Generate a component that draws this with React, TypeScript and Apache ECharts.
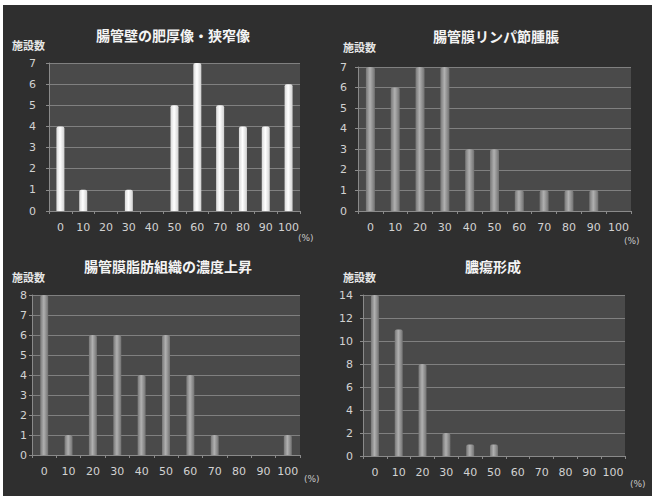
import React, { useEffect, useRef } from "react";
import * as echarts from "echarts";

const categories = ["0", "10", "20", "30", "40", "50", "60", "70", "80", "90", "100"];
const titles = [
  "腸管壁の肥厚像・狭窄像",
  "腸管膜リンパ節腫脹",
  "腸管膜脂肪組織の濃度上昇",
  "膿瘍形成",
];
const wallThickening = [4, 1, 0, 1, 0, 5, 7, 5, 4, 4, 6];
const lymphNodes = [7, 6, 7, 7, 3, 3, 1, 1, 1, 1, 0];
const fatDensity = [8, 1, 6, 6, 4, 6, 4, 1, 0, 0, 1];
const abscess = [14, 11, 8, 2, 1, 1, 0, 0, 0, 0, 0];
const yMax = [7, 7, 8, 14];
const yInterval = [1, 1, 1, 2];
const yName = "施設数";
const xName = "(%)";

const FONT = "'Noto Sans CJK JP', 'DejaVu Sans', sans-serif";
const LABEL_FONT = "'DejaVu Sans', sans-serif";

export default function App() {
  const ref = useRef<HTMLDivElement>(null);
  useEffect(() => {
    const chart = echarts.init(ref.current!, null, { renderer: "svg" });
    const grids = [
      { left: 49, top: 63, width: 251, height: 148 },
      { left: 358, top: 67, width: 273, height: 144 },
      { left: 32, top: 295, width: 268, height: 160 },
      { left: 363, top: 295, width: 262, height: 161 },
    ];
    const data = [wallThickening, lymphNodes, fatDensity, abscess];
    const titlePos = [
      [168, 23],
      [491, 24],
      [163, 254],
      [488, 254],
    ];
    const yNamePos = [
      [12, 39],
      [343, 41],
      [12, 271],
      [343, 271],
    ];
    const xNamePos = [
      [298, 233],
      [624, 236],
      [304, 474],
      [630, 479],
    ];
    const yLabelMargin = [13, 11, 5, 10];
    const barWidths = [8, 9, 8, 8];
    const greyBar = {
      type: "linear",
      x: 0,
      y: 0,
      x2: 1,
      y2: 0,
      colorStops: [
        { offset: 0, color: "#777777" },
        { offset: 0.45, color: "#b0b0b0" },
        { offset: 1, color: "#727272" },
      ],
    };
    const whiteBar = {
      type: "linear",
      x: 0,
      y: 0,
      x2: 1,
      y2: 0,
      colorStops: [
        { offset: 0, color: "#d8d8d8" },
        { offset: 0.45, color: "#ffffff" },
        { offset: 1, color: "#d0d0d0" },
      ],
    };
    const graphics: any[] = [
      {
        type: "rect",
        shape: { x: 3, y: 5, width: 649, height: 491 },
        style: { fill: "#2f2f2f" },
        z: -10,
        silent: true,
      },
    ];
    for (let i = 0; i < 4; i++) {
      graphics.push({
        type: "text",
        x: yNamePos[i][0],
        y: yNamePos[i][1],
        style: { text: yName, fill: "#e6e6e6", font: `bold 11px ${FONT}` },
      });
      graphics.push({
        type: "text",
        x: xNamePos[i][0],
        y: xNamePos[i][1],
        style: { text: xName, fill: "#c8c8c8", font: `9px ${LABEL_FONT}` },
      });
    }
    chart.setOption({
      animation: false,
      backgroundColor: "#ffffff",
      title: titles.map((t, i) => ({
        text: t,
        left: titlePos[i][0],
        top: titlePos[i][1],
        textAlign: "center",
        textStyle: { color: "#f4f4f4", fontSize: 14, fontWeight: "bold", fontFamily: FONT },
      })),
      graphic: graphics,
      grid: grids.map((g) => ({
        ...g,
        show: true,
        backgroundColor: "#4a4a4a",
        borderWidth: 0,
      })),
      xAxis: grids.map((_, i) => ({
        type: "category",
        gridIndex: i,
        data: categories,
        axisLine: { lineStyle: { color: "#8a8a8a" } },
        axisTick: { show: true, length: 3, lineStyle: { color: "#8a8a8a" } },
        axisLabel: {
          color: "#d2d2d2",
          fontSize: 11,
          fontFamily: LABEL_FONT,
          margin: 11,
          interval: 0,
        },
      })),
      yAxis: grids.map((_, i) => ({
        type: "value",
        gridIndex: i,
        min: 0,
        max: yMax[i],
        interval: yInterval[i],
        axisLine: { show: true, lineStyle: { color: "#8a8a8a" } },
        axisTick: { show: true, length: 3, lineStyle: { color: "#8a8a8a" } },
        splitLine: { show: true, lineStyle: { color: "#808080", width: 1 } },
        axisLabel: {
          color: "#d2d2d2",
          fontSize: 11,
          fontFamily: LABEL_FONT,
          margin: yLabelMargin[i],
        },
      })),
      series: data.map((d, i) => ({
        type: "bar",
        xAxisIndex: i,
        yAxisIndex: i,
        data: d,
        barWidth: barWidths[i],
        itemStyle: { color: i === 0 ? whiteBar : greyBar, borderRadius: [2, 2, 0, 0] },
      })),
    });
    return () => chart.dispose();
  }, []);
  return (
    <div
      ref={ref}
      style={{ position: "fixed", left: 0, top: 0, width: 652, height: 496 }}
    />
  );
}
